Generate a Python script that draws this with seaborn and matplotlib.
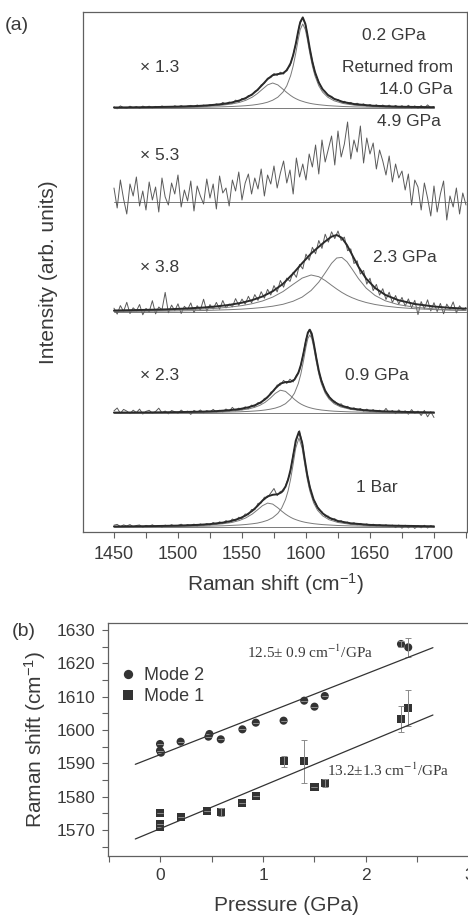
import matplotlib
matplotlib.use("Agg")
import matplotlib.pyplot as plt
from matplotlib.ticker import MultipleLocator
import numpy as np
import pandas as pd
import seaborn as sns

# ---------------------------------------------------------------- panel (a)
# measured spectra, sampled every 2.5 cm-1 from 1450 cm-1 (arb. units above baseline)
shift_short = 1450 + 2.5 * np.arange(101)   # up to 1700
shift_long = 1450 + 2.5 * np.arange(111)    # up to 1725

meas_0p2 = [
    1.2, -0.8, 2.1, 0.3, -0.5, 1.8, 0.2, 1.4, -0.4, 1.9,
    0.6, 1.8, 0.1, 1.6, 0.5, 2.0, 0.9, 1.5, 0.3, 2.2,
    1.0, 2.4, 0.8, 1.9, 2.6, 1.2, 3.0, 1.6, 2.9, 1.8,
    3.4, 2.5, 4.1, 3.0, 5.6, 3.9, 6.0, 4.7, 7.9, 6.1,
    9.6, 8.8, 12.5, 12.4, 16.7, 17.9, 23.1, 24.6, 29.8, 30.4,
    34.5, 32.6, 35.8, 34.0, 38.9, 42.1, 53.7, 66.5, 83.8, 89.9,
    82.0, 62.1, 47.0, 33.5, 26.3, 19.1, 16.6, 12.0, 11.7, 8.3,
    8.5, 5.9, 6.7, 4.5, 5.6, 3.3, 4.8, 2.7, 4.2, 1.9,
    3.5, 1.5, 3.2, 1.1, 3.0, 0.8, 2.9, 0.4, 2.6, 0.7,
    2.3, 0.2, 2.7, 0.1, 2.1, -0.3, 2.4, 0.0, 3.1, 0.2,
    1.5,
]
meas_4p9 = [
    14, -6, 22, 3, -12, 18, 6, 25, -4, 11,
    -8, 20, 2, 15, -10, 24, 5, -3, 19, 8,
    27, -5, 12, 1, 21, -9, 16, 6, -2, 23,
    4, 18, -7, 26, 9, 14, -4, 22, 11, 30,
    2, 19, 28, 8, 24, 13, 33, 6, 27, 18,
    36, 14, 29, 41, 19, 32, 8, 44, 25, 38,
    22, 48, 35, 57, 28, 62, 40, 53, 66, 37,
    71, 45, 58, 80, 43, 62, 50, 76, 39, 64,
    48, 59, 33, 52, 41, 27, 46, 20, 38, 24,
    31, 12, 28, -3, 22, 15, -8, 19, 4, -14,
    16, -10, 8, 21, -18, 6, -5, 14, -12, 9,
    -3,
]
meas_2p3 = [
    3.8, -2.1, 6.4, 0.5, 9.7, -1.6, 4.2, 1.0, 7.5, -2.8,
    3.6, 0.2, 11.3, -1.9, 5.0, 2.1, 19.6, -0.8, 6.9, 1.3,
    8.2, -1.5, 5.7, 2.4, 9.1, -0.6, 6.3, 1.9, 12.8, 0.7,
    7.4, 3.0, 9.6, 2.8, 11.5, 4.1, 8.0, 5.2, 13.4, 6.6,
    12.9, 7.8, 15.7, 9.1, 17.4, 11.6, 20.3, 13.8, 22.6, 17.0,
    26.4, 20.1, 31.5, 24.8, 33.9, 30.6, 39.8, 34.7, 47.6, 43.1,
    57.9, 51.8, 64.7, 58.2, 71.5, 63.6, 77.8, 69.9, 80.2, 73.4,
    81.0, 71.6, 74.9, 61.3, 63.1, 48.5, 51.2, 38.0, 41.6, 27.9,
    33.8, 21.4, 27.6, 16.9, 23.3, 12.5, 19.8, 9.4, 16.5, 7.8,
    14.6, 5.9, 13.1, 4.2, 11.7, -2.6, 10.4, 3.1, 12.2, 1.0,
    9.3, 0.4, 8.6, -1.8, 7.9, 2.5, 10.1, -0.9, 6.2, 1.7,
    4.6,
]
meas_0p9 = [
    2.1, 5.0, -0.4, 3.6, 1.9, -0.6, 2.8, 0.4, 3.9, -1.0,
    1.6, 2.7, -0.2, 1.5, 4.8, 0.1, 2.0, -0.8, 2.5, 1.2,
    -0.3, 2.9, 0.6, 1.9, -1.4, 2.6, 0.8, 3.0, 0.2, 2.4,
    1.0, 3.6, 0.9, 2.7, 1.1, 4.0, 1.8, 5.6, 2.2, 4.9,
    3.1, 6.2, 4.3, 7.9, 6.5, 10.4, 9.8, 14.6, 15.1, 20.8,
    22.2, 28.0, 27.9, 32.6, 29.5, 33.8, 31.0, 37.8, 42.5, 57.1,
    73.6, 83.4, 75.0, 60.4, 41.2, 31.6, 21.5, 18.3, 12.6, 11.8,
    8.1, 9.2, 5.4, 6.7, 3.6, 5.2, 2.9, 4.5, 1.8, 3.9,
    1.5, 3.4, 0.9, 2.8, 0.4, 4.6, 0.2, 2.5, -0.6, 3.1,
    0.1, 2.2, -1.2, 3.4, -0.4, 1.9, -2.5, 2.6, -3.8, 1.3,
    -4.5,
]
meas_1bar = [
    1.8, 2.6, 0.4, 2.1, 1.0, 2.4, 0.2, 1.5, 2.0, -0.3,
    1.6, 0.7, 2.2, 0.3, 1.4, -0.2, 1.9, 0.6, 2.3, 0.8,
    1.5, 2.8, 0.6, 2.4, 1.2, 2.9, 1.0, 3.1, 1.6, 3.4,
    2.0, 4.5, 2.6, 5.2, 3.5, 6.4, 4.6, 8.0, 6.1, 9.8,
    8.4, 13.0, 12.1, 17.5, 17.2, 23.6, 24.0, 29.8, 29.5, 34.0,
    38.5, 31.4, 35.6, 35.9, 44.8, 53.6, 72.5, 87.2, 96.3, 81.8,
    58.9, 43.8, 29.6, 24.1, 17.0, 15.3, 10.7, 10.9, 7.4, 8.3,
    5.2, 6.4, 3.8, 5.0, 2.9, 4.3, 2.2, 3.6, 1.8, 3.1,
    1.2, 2.8, 0.9, 2.4, 0.6, 2.2, 0.3, 1.9, -0.6, 2.0,
    -1.2, 1.8, -0.9, 1.6, -1.4, 1.3, -0.8, 1.7, -1.0, 1.4,
    -0.5,
]

# Lorentzian fits: x positions, two components and their sum
fit_x_0p2 = [1450, 1480, 1500, 1515, 1525, 1535, 1542, 1548, 1553, 1558, 1562, 1566, 1570,
             1574, 1578, 1582, 1585, 1588, 1590, 1592, 1594, 1595.5, 1597.5, 1599.5, 1601,
             1603, 1605, 1607, 1610, 1613, 1617, 1622, 1629, 1638, 1652, 1672, 1700]
fit_main_0p2 = [0.2, 0.3, 0.5, 0.7, 0.9, 1.2, 1.5, 1.9, 2.3, 2.9, 3.6, 4.5, 5.8,
                7.8, 10.8, 15.9, 22.2, 32.3, 42.0, 54.6, 69.0, 78.4, 84.0, 78.4, 69.0,
                54.6, 42.0, 32.3, 22.2, 15.9, 10.8, 7.2, 4.5, 2.8, 1.6, 0.8, 0.5]
fit_side_0p2 = [0.3, 0.5, 0.9, 1.3, 1.9, 2.9, 4.0, 5.6, 7.7, 10.8, 14.4, 18.8, 23.1,
                25.0, 23.1, 18.8, 15.5, 12.5, 10.8, 9.4, 8.2, 7.4, 6.6, 5.8, 5.3,
                4.7, 4.2, 3.8, 3.3, 2.9, 2.4, 2.0, 1.5, 1.1, 0.8, 0.5, 0.3]
fit_sum_0p2 = [0.5, 0.9, 1.4, 2.0, 2.8, 4.0, 5.5, 7.5, 10.0, 13.7, 18.0, 23.3, 28.9,
               32.8, 33.9, 34.7, 37.7, 44.8, 52.8, 64.0, 77.2, 85.8, 90.6, 84.2, 74.3,
               59.3, 46.2, 36.1, 25.5, 18.8, 13.2, 9.2, 6.0, 3.9, 2.3, 1.3, 0.8]

fit_x_2p3 = [1450, 1470, 1490, 1505, 1520, 1530, 1540, 1550, 1558, 1566, 1574, 1582, 1590,
             1597, 1604, 1610, 1615, 1620, 1624, 1628, 1632, 1636, 1641, 1647, 1654, 1662,
             1672, 1685, 1700, 1712, 1725]
fit_low_2p3 = [0.9, 1.2, 1.7, 2.2, 3.0, 3.7, 4.8, 6.4, 8.3, 11.0, 14.9, 20.4, 27.7,
               33.9, 37.0, 35.3, 31.5, 26.7, 23.0, 19.6, 16.7, 14.3, 11.8, 9.5, 7.5, 5.9,
               4.5, 3.3, 2.4, 1.9, 1.5]
fit_high_2p3 = [0.6, 0.7, 0.9, 1.2, 1.5, 1.9, 2.3, 2.9, 3.6, 4.5, 5.8, 7.7, 10.8,
                14.9, 21.5, 29.9, 39.1, 48.7, 54.0, 54.6, 50.3, 43.0, 33.4, 23.9, 16.5, 11.2,
                7.4, 4.8, 3.1, 2.3, 1.8]
fit_sum_2p3 = [1.5, 2.0, 2.6, 3.4, 4.5, 5.6, 7.1, 9.3, 11.9, 15.5, 20.7, 28.1, 38.5,
               48.8, 58.5, 65.2, 70.6, 75.4, 77.0, 74.2, 67.0, 57.3, 45.2, 33.4, 24.0, 17.1,
               11.9, 8.0, 5.5, 4.2, 3.3]

fit_x_0p9 = [1450, 1480, 1500, 1520, 1530, 1540, 1548, 1555, 1560, 1564, 1568, 1572, 1576,
             1580, 1584, 1588, 1591, 1594, 1596, 1598, 1600, 1601.5, 1603, 1604.5, 1606,
             1608, 1610, 1612, 1615, 1618, 1622, 1627, 1635, 1645, 1660, 1680, 1700]
fit_main_0p9 = [0.2, 0.3, 0.4, 0.6, 0.7, 1.0, 1.2, 1.6, 2.0, 2.4, 3.0, 3.8, 4.9,
                6.6, 9.3, 14.0, 19.8, 29.4, 39.0, 51.7, 65.9, 74.6, 78.0, 74.6, 65.9,
                51.7, 39.0, 29.4, 19.8, 14.0, 9.3, 6.1, 3.6, 2.1, 1.2, 0.6, 0.4]
fit_side_0p9 = [0.2, 0.3, 0.5, 0.9, 1.2, 1.8, 2.7, 4.0, 5.7, 7.7, 10.6, 14.7, 19.6,
                22.8, 21.6, 17.2, 13.6, 10.6, 9.0, 7.7, 6.6, 5.9, 5.3, 4.8, 4.3,
                3.8, 3.4, 3.0, 2.6, 2.2, 1.8, 1.5, 1.1, 0.8, 0.5, 0.3, 0.2]
fit_sum_0p9 = [0.4, 0.6, 0.9, 1.4, 1.9, 2.8, 3.9, 5.7, 7.7, 10.1, 13.6, 18.5, 24.5,
               29.4, 30.9, 31.2, 33.4, 40.0, 48.0, 59.4, 72.5, 80.5, 83.3, 79.4, 70.2,
               55.5, 42.4, 32.4, 22.4, 16.1, 11.1, 7.6, 4.6, 2.9, 1.7, 1.0, 0.6]

fit_x_1bar = [1450, 1480, 1500, 1515, 1525, 1535, 1542, 1548, 1553, 1558, 1562, 1566, 1570,
              1574, 1578, 1581, 1584, 1586, 1588, 1590, 1592, 1594.5, 1597, 1599, 1601,
              1603, 1606, 1609, 1613, 1618, 1625, 1635, 1650, 1670, 1700]
fit_main_1bar = [0.2, 0.3, 0.5, 0.7, 0.9, 1.2, 1.6, 2.0, 2.5, 3.2, 3.9, 5.1, 6.7,
                 9.3, 13.6, 18.9, 27.4, 36.0, 47.8, 63.0, 78.9, 89.0, 78.9, 63.0, 47.8,
                 36.0, 24.1, 16.8, 11.2, 7.3, 4.5, 2.6, 1.4, 0.8, 0.4]
fit_side_1bar = [0.3, 0.6, 0.9, 1.4, 2.0, 3.2, 4.5, 6.5, 9.1, 12.9, 17.0, 21.3, 23.9,
                 22.9, 19.2, 15.9, 12.9, 11.2, 9.7, 8.4, 7.4, 6.3, 5.4, 4.8, 4.3,
                 3.9, 3.3, 2.9, 2.4, 2.0, 1.5, 1.1, 0.7, 0.5, 0.3]
fit_sum_1bar = [0.5, 0.9, 1.4, 2.1, 2.9, 4.4, 6.1, 8.5, 11.6, 16.1, 20.9, 26.4, 30.6,
                32.2, 32.8, 34.8, 40.3, 47.2, 57.5, 71.4, 86.3, 95.3, 84.3, 67.8, 52.1,
                39.9, 27.4, 19.7, 13.6, 9.3, 6.0, 3.7, 2.1, 1.3, 0.7]

# ---------------------------------------------------------------- panel (b)
mode2_p = [0.0, 0.0, 0.01, 0.20, 0.47, 0.48, 0.59, 0.80, 0.93, 1.20, 1.40, 1.50, 1.60, 2.34, 2.41]
mode2_w = [1595.8, 1593.8, 1593.2, 1596.5, 1598.0, 1598.8, 1597.2, 1600.2, 1602.2, 1602.8,
           1608.8, 1607.0, 1610.2, 1625.8, 1624.8]
mode2_err = [0, 0, 0, 0, 0, 0, 0, 0, 0, 0, 0, 0, 0, 0.8, 2.8]
mode1_p = [0.0, 0.0, 0.0, 0.20, 0.46, 0.59, 0.80, 0.93, 1.20, 1.40, 1.50, 1.60, 2.34, 2.41]
mode1_w = [1575.0, 1571.7, 1571.0, 1574.0, 1575.8, 1575.5, 1578.0, 1580.2, 1590.6, 1590.6,
           1583.0, 1584.0, 1603.4, 1606.6]
mode1_err = [0, 0, 0, 0, 0, 1.2, 0, 0, 1.7, 6.5, 0, 1.2, 3.9, 5.4]
fit2_p, fit2_w = [-0.24, 2.65], [1589.7, 1624.7]
fit1_p, fit1_w = [-0.24, 2.65], [1567.3, 1604.5]

# ---------------------------------------------------------------- style
sns.set_theme(style="white")
plt.rcParams["font.family"] = ["Liberation Sans", "DejaVu Sans"]
plt.rcParams["mathtext.fontset"] = "custom"
plt.rcParams["mathtext.rm"] = "Liberation Sans"
plt.rcParams["mathtext.it"] = "Liberation Sans:italic"
plt.rcParams["mathtext.bf"] = "Liberation Sans:bold"

INK = "#3a3a3a"
DATA = "#5a5a5a"
THIN = "#7a7a7a"
SPINE = "#606060"

fig = plt.figure(figsize=(4.68, 9.19), dpi=100)
ax_a = fig.add_axes([83 / 468, 1 - 532 / 919, 384 / 468, 520 / 919])
ax_b = fig.add_axes([108 / 468, 1 - 856 / 919, 372 / 468, 233 / 919])


def trace(ax, x, y, offset, color, lw):
    sns.lineplot(x=np.asarray(x, float), y=np.asarray(y, float) + offset, ax=ax,
                 color=color, linewidth=lw, estimator=None, sort=False)


# (offset, measured grid, measured, fit pieces, baseline end)
spectra = [
    (424, shift_short, meas_0p2, (fit_x_0p2, fit_main_0p2, fit_side_0p2, fit_sum_0p2), 1700),
    (330, shift_long, meas_4p9, None, 1726),
    (220, shift_long, meas_2p3, (fit_x_2p3, fit_low_2p3, fit_high_2p3, fit_sum_2p3), 1726),
    (119, shift_short, meas_0p9, (fit_x_0p9, fit_main_0p9, fit_side_0p9, fit_sum_0p9), 1700),
    (5, shift_short, meas_1bar, (fit_x_1bar, fit_main_1bar, fit_side_1bar, fit_sum_1bar), 1700),
]
for offset, grid, meas, fit, x_end in spectra:
    trace(ax_a, [1450, x_end], [0, 0], offset, THIN, 0.7)
    trace(ax_a, grid, meas, offset, DATA, 0.7)
    if fit is not None:
        fx, c1, c2, tot = fit
        trace(ax_a, fx, c1, offset, THIN, 0.7)
        trace(ax_a, fx, c2, offset, THIN, 0.7)
        trace(ax_a, fx, tot, offset, "#2a2a2a", 1.4)

ax_a.set_xlim(1425.8, 1725.8)
ax_a.set_ylim(0, 520)
ax_a.set_yticks([])
ax_a.xaxis.set_major_locator(MultipleLocator(50))
ax_a.xaxis.set_minor_locator(MultipleLocator(25))
ax_a.tick_params(axis="x", which="both", bottom=True, direction="out", length=4,
                 width=0.8, colors=SPINE, labelcolor=INK, labelsize=13, pad=6)
ax_a.set_xlabel("Raman shift (cm$^{-1}$)", fontsize=15, color=INK, labelpad=6)
ax_a.set_ylabel("Intensity (arb. units)", fontsize=15, color=INK, labelpad=18)

lab = dict(fontsize=12.5, color=INK, va="center")
ax_a.text(1643.7, 497, "0.2 GPa", ha="left", **lab)
ax_a.text(1714.8, 465, "Returned from", ha="right", **lab)
ax_a.text(1714.8, 443, "14.0 GPa", ha="right", **lab)
ax_a.text(1470.3, 465, "\u00d7 1.3", ha="left", **lab)
ax_a.text(1655.5, 410, "4.9 GPa", ha="left", **lab)
ax_a.text(1470.3, 377, "\u00d7 5.3", ha="left", **lab)
ax_a.text(1652.0, 274, "2.3 GPa", ha="left", **lab)
ax_a.text(1470.3, 264, "\u00d7 3.8", ha="left", **lab)
ax_a.text(1630.5, 157, "0.9 GPa", ha="left", **lab)
ax_a.text(1470.3, 157, "\u00d7 2.3", ha="left", **lab)
ax_a.text(1639.0, 44, "1 Bar", ha="left", **lab)

# ---- panel (b)
ax_b.errorbar(mode2_p, mode2_w, yerr=mode2_err, fmt="none", ecolor="#8a8a8a",
              elinewidth=0.7, capsize=2, capthick=0.7)
ax_b.errorbar(mode1_p, mode1_w, yerr=mode1_err, fmt="none", ecolor="#8a8a8a",
              elinewidth=0.7, capsize=2, capthick=0.7)
sns.lineplot(x=fit2_p, y=fit2_w, ax=ax_b, color="#333333", linewidth=0.9)
sns.lineplot(x=fit1_p, y=fit1_w, ax=ax_b, color="#333333", linewidth=0.9)

points = pd.concat([
    pd.DataFrame({"p": mode2_p, "w": mode2_w, "mode": "Mode 2"}),
    pd.DataFrame({"p": mode1_p, "w": mode1_w, "mode": "Mode 1"}),
])
sns.scatterplot(data=points, x="p", y="w", style="mode", style_order=["Mode 2", "Mode 1"],
                markers={"Mode 2": "o", "Mode 1": "s"}, color="#333333", s=34,
                linewidth=0, ax=ax_b)

leg = ax_b.legend(loc="upper left", bbox_to_anchor=(0.035, 0.81), frameon=False,
                  fontsize=13, handlelength=0.8, handletextpad=0.45, labelspacing=0.2,
                  borderpad=0, borderaxespad=0, markerscale=1.15)
for t in leg.get_texts():
    t.set_color(INK)

ann = dict(fontsize=11, color=INK, va="center", ha="left",
           family=["Liberation Serif", "DejaVu Serif"], math_fontfamily="stix")
ax_b.text(0.845, 1623.4, "12.5\u00b1 0.9 cm$^{-1}$/GPa", **ann)
ax_b.text(1.62, 1588.0, "13.2\u00b11.3 cm$^{-1}$/GPa", **ann)

ax_b.set_xlim(-0.505, 3.107)
ax_b.set_ylim(1562.2, 1632.1)
ax_b.xaxis.set_major_locator(MultipleLocator(1))
ax_b.xaxis.set_minor_locator(MultipleLocator(0.5))
ax_b.yaxis.set_major_locator(MultipleLocator(10))
ax_b.yaxis.set_minor_locator(MultipleLocator(5))
ax_b.tick_params(axis="both", which="both", bottom=True, left=True, direction="out",
                 length=4, width=0.8, colors=SPINE, labelcolor=INK, labelsize=12.5, pad=5)
ax_b.set_xlabel("Pressure (GPa)", fontsize=15, color=INK, labelpad=8)
ax_b.xaxis.set_label_coords(0.481, -0.17)
ax_b.set_ylabel("Raman shift (cm$^{-1}$)", fontsize=15, color=INK, labelpad=6)

for ax in (ax_a, ax_b):
    for s in ax.spines.values():
        s.set_color(SPINE)
        s.set_linewidth(0.9)

fig.text(5 / 468, 1 - 26 / 919, "(a)", fontsize=14, color=INK, va="center", ha="left")
fig.text(12 / 468, 1 - 631 / 919, "(b)", fontsize=14, color=INK, va="center", ha="left")

fig.savefig("out.png", dpi=100)
